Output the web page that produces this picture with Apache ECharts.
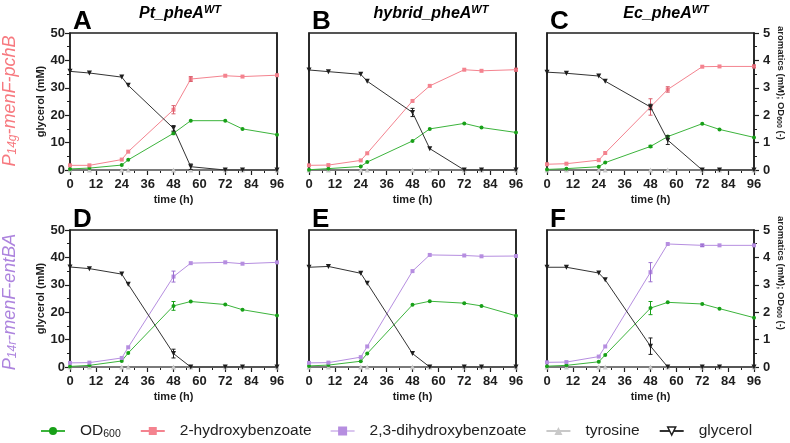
<!DOCTYPE html>
<html><head><meta charset="utf-8">
<script src="https://cdn.jsdelivr.net/npm/echarts@6/dist/echarts.min.js"></script>
<style>html,body{margin:0;padding:0;background:#fff}#c{width:790px;height:443px}</style>
</head><body><div id="c"></div><script>
// ---- data ----
const time = [0, 9, 24, 27, 48, 56, 72, 80, 96];
const tyrosine = [0, 0, 0, 0, 0, 0, 0, 0, 0];

// Row 1: P14g-menF-pchB (2-hydroxybenzoate)
const glyA = [36.0, 35.4, 33.9, 30.9, 15.2, 1.2, 0, 0, 0];
const hbaA = [0.17, 0.17, 0.38, 0.67, 2.20, 3.32, 3.44, 3.41, 3.46];
const odA  = [0.04, 0.07, 0.18, 0.37, 1.34, 1.80, 1.80, 1.50, 1.29];
const errGlyA = [0, 0, 0, 0, 1.0, 1.0, 0, 0, 0];
const errHbaA = [0, 0, 0, 0, 0.15, 0.09, 0, 0, 0];
const errOdA  = [0, 0, 0, 0, 0.05, 0, 0, 0, 0];

const glyB = [36.5, 35.9, 34.9, 32.4, 21.0, 7.8, 0, 0, 0];
const hbaB = [0.17, 0.18, 0.35, 0.61, 2.52, 3.07, 3.66, 3.62, 3.66];
const odB  = [0.01, 0.05, 0.13, 0.29, 1.06, 1.50, 1.70, 1.55, 1.37];
const errGlyB = [0, 0, 0, 0, 1.5, 0, 0, 0, 0];
const errHbaB = [0, 0, 0, 0, 0, 0, 0, 0, 0.05];
const errOdB  = [0, 0, 0, 0, 0, 0, 0, 0, 0];

const glyC = [35.7, 35.3, 34.3, 32.4, 23.0, 10.9, 0, 0, 0];
const hbaC = [0.21, 0.23, 0.36, 0.62, 2.30, 2.94, 3.77, 3.78, 3.78];
const odC  = [0.02, 0.05, 0.12, 0.27, 0.86, 1.22, 1.69, 1.48, 1.19];
const errGlyC = [0, 0, 0, 0, 1.0, 1.6, 0, 0, 0];
const errHbaC = [0, 0, 0, 0, 0.30, 0.10, 0, 0, 0.05];
const errOdC  = [0, 0, 0, 0, 0.04, 0, 0, 0, 0];

// Row 2: P14r-menF-entBA (2,3-dihydroxybenzoate)
const glyD = [36.5, 35.9, 33.9, 30.2, 4.9, 0, 0, 0, 0];
const dhbD = [0.15, 0.16, 0.33, 0.72, 3.30, 3.79, 3.82, 3.77, 3.82];
const odD  = [0.02, 0.06, 0.22, 0.51, 2.23, 2.39, 2.28, 2.09, 1.88];
const errGlyD = [0, 0, 0, 0, 1.6, 0, 0, 0, 0];
const errDhbD = [0, 0, 0, 0, 0.20, 0, 0, 0, 0];
const errOdD  = [0, 0, 0, 0, 0.16, 0, 0, 0, 0];

const glyE = [36.4, 36.7, 34.2, 30.6, 4.9, 0, 0, 0, 0];
const dhbE = [0.15, 0.16, 0.36, 0.75, 3.50, 4.09, 4.07, 4.04, 4.05];
const odE  = [0.04, 0.07, 0.21, 0.49, 2.27, 2.40, 2.33, 2.23, 1.87];
const errGlyE = [0, 0, 0, 0, 0, 0, 0, 0, 0];
const errDhbE = [0, 0, 0, 0, 0, 0, 0, 0, 0];
const errOdE  = [0, 0, 0, 0, 0, 0, 0, 0, 0];

const glyF = [36.4, 36.4, 34.3, 31.8, 7.6, 0, 0, 0, 0];
const dhbF = [0.17, 0.18, 0.38, 0.75, 3.46, 4.49, 4.44, 4.44, 4.44];
const odF  = [0.03, 0.06, 0.19, 0.44, 2.15, 2.36, 2.30, 2.13, 1.80];
const errGlyF = [0, 0, 0, 0, 3.0, 0, 0, 0, 0];
const errDhbF = [0, 0, 0, 0, 0.35, 0, 0.04, 0, 0];
const errOdF  = [0, 0, 0, 0, 0.24, 0, 0, 0, 0];

const panelLetters = ['A', 'B', 'C', 'D', 'E', 'F'];
const strainTitles = ['Pt_pheA', 'hybrid_pheA', 'Ec_pheA'];
const xTickInterval = 12;

// ---- styling/layout ----
const FONT = 'Arial, "Liberation Sans", sans-serif';
const GREEN = '#18a018', PINK = '#f4838f', PURPLE = '#b68ee0', BLACK = '#1e1e1e', GREY = '#c9c9c9';
const lefts = [70, 309, 547], tops = [33, 230], W = 207, H = 137;

const panels = [
  {gly: glyA, aro: hbaA, od: odA, eg: errGlyA, ea: errHbaA, eo: errOdA, aroName: '2-hydroxybenzoate', aroColor: PINK},
  {gly: glyB, aro: hbaB, od: odB, eg: errGlyB, ea: errHbaB, eo: errOdB, aroName: '2-hydroxybenzoate', aroColor: PINK},
  {gly: glyC, aro: hbaC, od: odC, eg: errGlyC, ea: errHbaC, eo: errOdC, aroName: '2-hydroxybenzoate', aroColor: PINK},
  {gly: glyD, aro: dhbD, od: odD, eg: errGlyD, ea: errDhbD, eo: errOdD, aroName: '2,3-dihydroxybenzoate', aroColor: PURPLE},
  {gly: glyE, aro: dhbE, od: odE, eg: errGlyE, ea: errDhbE, eo: errOdE, aroName: '2,3-dihydroxybenzoate', aroColor: PURPLE},
  {gly: glyF, aro: dhbF, od: odF, eg: errGlyF, ea: errDhbF, eo: errOdF, aroName: '2,3-dihydroxybenzoate', aroColor: PURPLE},
];

const pairs = arr => time.map((t, k) => [t, arr[k]]);
const errData = (v, e) => time.map((t, k) => [t, v[k] - e[k], v[k] + e[k]]).filter((d, k) => e[k] > 0);

function errRender(color) {
  return function (params, api) {
    const lo = api.coord([api.value(0), api.value(1)]);
    const hi = api.coord([api.value(0), api.value(2)]);
    const st = {stroke: color, lineWidth: 1};
    return {type: 'group', children: [
      {type: 'line', shape: {x1: lo[0], y1: lo[1], x2: hi[0], y2: hi[1]}, style: st},
      {type: 'line', shape: {x1: lo[0] - 2, y1: lo[1], x2: lo[0] + 2, y2: lo[1]}, style: st},
      {type: 'line', shape: {x1: hi[0] - 2, y1: hi[1], x2: hi[0] + 2, y2: hi[1]}, style: st}
    ]};
  };
}

const grid = [], xAxis = [], yAxis = [], series = [], graphic = [];
const axisLineStyle = {color: BLACK, width: 1.5};
const labelStyle = {fontSize: 13, fontWeight: 'bold', color: BLACK, fontFamily: FONT};

panels.forEach((p, i) => {
  const col = i % 3, row = Math.floor(i / 3);
  grid.push({left: lefts[col], top: tops[row], width: W, height: H, show: true,
    borderColor: BLACK, borderWidth: 1.5, backgroundColor: 'transparent', containLabel: false});
  xAxis.push({gridIndex: i, type: 'value', min: 0, max: 96, interval: xTickInterval,
    axisLine: {show: true, onZero: false, lineStyle: axisLineStyle},
    axisTick: {show: true, length: 5, lineStyle: {color: BLACK, width: 1.2}},
    minorTick: {show: true, splitNumber: 2, length: 3, lineStyle: {color: BLACK, width: 1}},
    splitLine: {show: false},
    axisLabel: Object.assign({margin: 8}, labelStyle),
    name: 'time (h)', nameLocation: 'middle', nameGap: 24,
    nameTextStyle: {fontSize: 11, fontWeight: 'bold', color: BLACK, fontFamily: FONT}});
  const showL = col === 0, showR = col === 2;
  yAxis.push({gridIndex: i, type: 'value', position: 'left', min: 0, max: 50, interval: 10,
    axisLine: {show: true, lineStyle: axisLineStyle},
    axisTick: {show: showL, length: 5, lineStyle: {color: BLACK, width: 1.2}},
    minorTick: {show: showL, splitNumber: 2, length: 3, lineStyle: {color: BLACK, width: 1}},
    splitLine: {show: false},
    axisLabel: Object.assign({show: showL, margin: 5}, labelStyle),
    name: showL ? 'glycerol (mM)' : '', nameLocation: 'middle', nameGap: 18,
    nameTextStyle: {fontSize: 11, fontWeight: 'bold', color: BLACK, fontFamily: FONT}});
  yAxis.push({gridIndex: i, type: 'value', position: 'right', min: 0, max: 5, interval: 1, alignTicks: false,
    axisLine: {show: true, lineStyle: axisLineStyle},
    axisTick: {show: showR, length: 5, lineStyle: {color: BLACK, width: 1.2}},
    minorTick: {show: showR, splitNumber: 2, length: 3, lineStyle: {color: BLACK, width: 1}},
    splitLine: {show: false},
    axisLabel: Object.assign({show: showR, margin: 9}, labelStyle)});
  const yl = 2 * i, yr = 2 * i + 1;
  const common = {type: 'line', xAxisIndex: i, clip: false, animation: false, lineStyle: {width: 1}};
  series.push(Object.assign({}, common, {name: 'tyrosine', yAxisIndex: yr, data: pairs(tyrosine),
    symbol: 'triangle', symbolSize: 5, itemStyle: {color: GREY}, lineStyle: {width: 1.2, color: GREY}, z: 2}));
  series.push(Object.assign({}, common, {name: 'OD600', yAxisIndex: yr, data: pairs(p.od),
    symbol: 'circle', symbolSize: 4, itemStyle: {color: GREEN}, lineStyle: {width: 1, color: '#3cb43c'}, z: 3}));
  series.push(Object.assign({}, common, {name: p.aroName, yAxisIndex: yr, data: pairs(p.aro),
    symbol: 'rect', symbolSize: 4, itemStyle: {color: p.aroColor}, lineStyle: {width: 1, color: p.aroColor}, z: 3}));
  series.push(Object.assign({}, common, {name: 'glycerol', yAxisIndex: yl, data: pairs(p.gly),
    symbol: 'triangle', symbolRotate: 180, symbolSize: 5, itemStyle: {color: BLACK}, lineStyle: {width: 1, color: '#333'}, z: 4}));
  [[p.od, p.eo, GREEN, yr], [p.aro, p.ea, p.aroColor === PINK ? '#d9606e' : '#9b6fd0', yr], [p.gly, p.eg, BLACK, yl]].forEach(([v, e, c, ya]) => {
    const d = errData(v, e);
    if (d.length) series.push({type: 'custom', xAxisIndex: i, yAxisIndex: ya, data: d, clip: false, z: 5,
      renderItem: errRender(c), encode: {x: 0, y: [1, 2]}, silent: true});
  });
  // panel letter
  graphic.push({type: 'text', x: lefts[col] + 3, y: row === 0 ? 22 : 220,
    style: {text: panelLetters[i], font: 'bold 26px ' + FONT, fill: '#000', align: 'left', verticalAlign: 'middle'}});
  // right-axis name
  if (showR) {
    graphic.push({type: 'text', x: 781, y: row === 0 ? 83 : 273, rotation: -Math.PI / 2,
      style: {text: '{a|aromatics (mM); OD}{s|600}{a| (-)}', align: 'center', verticalAlign: 'middle',
        rich: {a: {font: 'bold 9.5px ' + FONT, fill: BLACK}, s: {font: 'bold 7px ' + FONT, fill: BLACK, verticalAlign: 'bottom', padding: [4, 0, 0, 0]}}}});
  }
});

const titleX = [180, 431, 666];
strainTitles.forEach((t, c) => {
  graphic.push({type: 'text', x: titleX[c], y: 14, style: {text: '{a|' + t + '}{b|WT}', align: 'center', verticalAlign: 'middle',
    rich: {a: {font: 'italic bold 16px ' + FONT, fill: '#000'}, b: {font: 'italic bold 11px ' + FONT, fill: '#000', verticalAlign: 'top', padding: [0, 0, 8, 0]}}}});
});

const rowLabels = [['P', '14g', '-menF-pchB', '#f7797f', 101], ['P', '14r', '-menF-entBA', '#ad84de', 302]];
rowLabels.forEach(([a, s, b, col, yc]) => {
  graphic.push({type: 'text', x: 10, y: yc, rotation: Math.PI / 2,
    style: {text: '{a|' + a + '}{s|' + s + '}{a|' + b + '}', align: 'center', verticalAlign: 'middle',
      rich: {a: {font: 'italic 18px ' + FONT, fill: col}, s: {font: 'italic 12px ' + FONT, fill: col, verticalAlign: 'bottom', padding: [6, 0, 0, 0]}}}});
});

const legendNames = ['OD600', '2-hydroxybenzoate', '2,3-dihydroxybenzoate', 'tyrosine', 'glycerol'];
const dhbIcon = 'path://M0,4.4H7.5V0.5H16.5V9.5H7.5V5.6H0Z M16.5,4.4H24V5.6H16.5Z M0,0 M24,10';

const chart = echarts.init(document.getElementById('c'), null, {renderer: 'canvas'});
chart.setOption({
  animation: false,
  backgroundColor: '#fff',
  grid, xAxis, yAxis, series, graphic,
  legend: {
    left: 40, top: 423, padding: 0, itemWidth: 24, itemHeight: 10, itemGap: 19,
    data: legendNames.map(n => n === 'glycerol'
      ? {name: n, itemStyle: {color: '#fff', borderColor: BLACK, borderWidth: 1.5}}
      : n === '2,3-dihydroxybenzoate' ? {name: n, icon: dhbIcon} : {name: n}),
    formatter: n => n === 'OD600' ? '{a|OD}{s|600}' : '{a|' + n + '}',
    textStyle: {color: '#222', fontSize: 15.5, fontFamily: FONT, padding: [0, 0, 0, 10],
      rich: {a: {fontSize: 15.5, fontFamily: FONT, color: '#222'}, s: {fontSize: 10.5, fontFamily: FONT, color: '#222', verticalAlign: 'bottom', padding: [6, 0, 0, 0]}}},
    selectedMode: false
  }
});
</script></body></html>
